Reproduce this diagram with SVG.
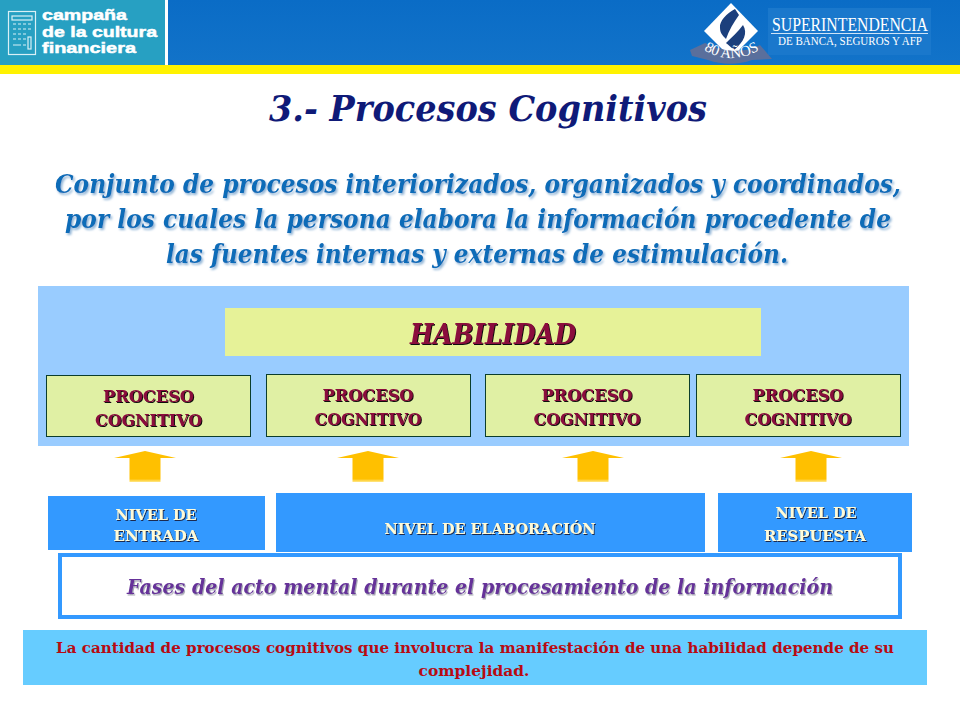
<svg xmlns="http://www.w3.org/2000/svg" width="960" height="720" viewBox="0 0 960 720">
<defs>
<linearGradient id="arrowFill" x1="0" y1="0" x2="0" y2="1"><stop offset="0" stop-color="#ffc000"/><stop offset="0.9" stop-color="#ffc000"/><stop offset="1" stop-color="#ffe88a"/></linearGradient>
<linearGradient id="headBg" x1="0" y1="0" x2="0" y2="1"><stop offset="0" stop-color="#0a6cc6"/><stop offset="1" stop-color="#1273c9"/></linearGradient>
<filter id="sBlue" x="-5%" y="-20%" width="110%" height="150%"><feDropShadow dx="1.500" dy="2" stdDeviation="1" flood-color="#8fb4d6"/></filter>
<filter id="sDark" x="-5%" y="-20%" width="110%" height="150%"><feDropShadow dx="1" dy="1" stdDeviation="0.4" flood-color="#111111"/></filter>
<filter id="sGrey" x="-5%" y="-20%" width="110%" height="150%"><feDropShadow dx="1" dy="1.500" stdDeviation="0.7" flood-color="#a9a9b5"/></filter>
<filter id="sNavy" x="-5%" y="-20%" width="110%" height="150%"><feDropShadow dx="1" dy="1" stdDeviation="0.3" flood-color="#1a2a50"/></filter>
<path id="upArrow" d="M-31 458 L0 451 L31 458 L15.500 458 L15.500 482 L-15.500 482 L-15.500 458 Z" fill="url(#arrowFill)"/>
<path id="ribbonArc" d="M704 50 Q731 66 759 50"/>
</defs>
<style>
text{font-family:"DejaVu Serif","Liberation Serif",serif;text-anchor:middle}
.pc{fill:#e0f0a4;stroke:#0b3d2c;stroke-width:1}
.pt{font-size:16px;font-weight:700;fill:#8a0a3c;filter:url(#sDark)}
.nv{fill:#3399ff}
.nt{font-size:14.500px;font-weight:700;fill:#fffbd8;filter:url(#sNavy)}
.intro{font-size:25.500px;font-weight:700;font-style:italic;fill:#0a6cb8;filter:url(#sBlue)}
.note{font-size:15px;font-weight:700;fill:#b80a12}
.lg{font-family:"Liberation Sans","DejaVu Sans",sans-serif;font-weight:700;fill:#ffffff;text-anchor:start;font-size:15.500px;stroke:#ffffff;stroke-width:0.5}
.sb{font-family:"Liberation Serif",serif;fill:#ffffff}
</style>
<rect width="960" height="720" fill="#ffffff"/>
<g id="header">
<rect x="0" y="0" width="960" height="65" fill="url(#headBg)"/>
<rect x="0" y="0" width="165" height="65" fill="#27a0c2"/>
<rect x="165" y="0" width="3" height="65" fill="#ffffff"/>
<rect x="0" y="65" width="960" height="9" fill="#fff200"/>
<g fill="none" stroke="#d8f0f6" stroke-width="1.200">
<rect x="8.500" y="11.500" width="27" height="43"/>
<rect x="12" y="16" width="20" height="4"/>
<path d="M13 24h3M18 24h3M23 24h3M28 24h3M13 29h3M18 29h3M23 29h3M28 29h3M13 34h3M18 34h3M23 34h3M13 39h3M18 39h3M23 39h3M13 45h8M23 45h3"/>
<rect x="28" y="37" width="3" height="12"/>
</g>
<text class="lg" x="42" y="20" textLength="85" lengthAdjust="spacingAndGlyphs">campaña</text>
<text class="lg" x="42" y="37" textLength="115" lengthAdjust="spacingAndGlyphs">de la cultura</text>
<text class="lg" x="42" y="53" textLength="94" lengthAdjust="spacingAndGlyphs">financiera</text>
<rect x="768" y="8" width="163" height="47" fill="#1a78cc"/>
<path d="M731 3 L758 31 L731 58 L704 31 Z" fill="#ffffff"/>
<path d="M735 9 C727 13 719 21 720 28 C720 33 723 36 726 39 C729 30 734 22 739 15 Z M743 25 C748 33 744 42 734 50 C731 47 727 44 726 43 C731 38 738 32 743 25 Z" fill="#1c3f7c"/>
<path d="M690 50 L705 43 C725 53 745 53 760 45 L772 59 L752 60 C738 65 722 65 708 60 L692 56 Z" fill="#5a6f9c"/>
<text font-size="15" fill="#ffffff" style="font-family:'Liberation Serif',serif"><textPath href="#ribbonArc" startOffset="50%">80 AÑOS</textPath></text>
<text class="sb" x="850" y="31" font-size="19" textLength="156" lengthAdjust="spacingAndGlyphs">SUPERINTENDENCIA</text>
<rect x="771" y="33" width="157" height="1" fill="#cfe4f7"/>
<text class="sb" x="850" y="45" font-size="11.500" textLength="144" lengthAdjust="spacingAndGlyphs">DE BANCA, SEGUROS Y AFP</text>
</g>
<g id="title">
<text x="488" y="121" font-size="35" font-weight="700" font-style="italic" fill="#0f1a78" textLength="438" lengthAdjust="spacingAndGlyphs">3.- Procesos Cognitivos</text>
</g>
<g id="intro">
<text class="intro" x="478" y="193" textLength="846" lengthAdjust="spacingAndGlyphs">Conjunto de procesos interiorizados, organizados y coordinados,</text>
<text class="intro" x="478" y="228" textLength="826" lengthAdjust="spacingAndGlyphs">por los cuales la persona elabora la información procedente de</text>
<text class="intro" x="477" y="263" textLength="622" lengthAdjust="spacingAndGlyphs">las fuentes internas y externas de estimulación.</text>
</g>
<rect id="panel" x="38" y="286" width="871" height="160" fill="#99ccff"/>
<g id="habilidad">
<rect x="225" y="308" width="536" height="48" fill="#e6f298"/>
<text x="493" y="344" font-size="27" font-weight="700" font-style="italic" fill="#8a0a3c" filter="url(#sDark)" textLength="166" lengthAdjust="spacingAndGlyphs">HABILIDAD</text>
</g>
<g id="proceso-1">
<rect class="pc" x="46.500" y="375.500" width="204" height="61"/>
<text class="pt" x="148.500" y="402" textLength="91" lengthAdjust="spacingAndGlyphs">PROCESO</text>
<text class="pt" x="148.500" y="426" textLength="107" lengthAdjust="spacingAndGlyphs">COGNITIVO</text>
</g>
<g id="proceso-2">
<rect class="pc" x="266.500" y="374.500" width="204" height="62"/>
<text class="pt" x="368" y="401" textLength="91" lengthAdjust="spacingAndGlyphs">PROCESO</text>
<text class="pt" x="368" y="425" textLength="107" lengthAdjust="spacingAndGlyphs">COGNITIVO</text>
</g>
<g id="proceso-3">
<rect class="pc" x="485.500" y="374.500" width="204" height="62"/>
<text class="pt" x="587" y="401" textLength="91" lengthAdjust="spacingAndGlyphs">PROCESO</text>
<text class="pt" x="587" y="425" textLength="107" lengthAdjust="spacingAndGlyphs">COGNITIVO</text>
</g>
<g id="proceso-4">
<rect class="pc" x="696.500" y="374.500" width="204" height="62"/>
<text class="pt" x="798" y="401" textLength="91" lengthAdjust="spacingAndGlyphs">PROCESO</text>
<text class="pt" x="798" y="425" textLength="107" lengthAdjust="spacingAndGlyphs">COGNITIVO</text>
</g>
<g id="connectors">
<use href="#upArrow" x="145"/>
<use href="#upArrow" x="368"/>
<use href="#upArrow" x="593"/>
<use href="#upArrow" x="811"/>
</g>
<g id="nivel-entrada">
<rect class="nv" x="48" y="496" width="217" height="54"/>
<text class="nt" x="156" y="520" textLength="81" lengthAdjust="spacingAndGlyphs">NIVEL DE</text>
<text class="nt" x="156" y="541" textLength="85" lengthAdjust="spacingAndGlyphs">ENTRADA</text>
</g>
<g id="nivel-elaboracion">
<rect class="nv" x="276" y="493" width="429" height="59"/>
<text class="nt" x="490" y="534" textLength="211" lengthAdjust="spacingAndGlyphs">NIVEL DE ELABORACIÓN</text>
</g>
<g id="nivel-respuesta">
<rect class="nv" x="718" y="493" width="194" height="59"/>
<text class="nt" x="816" y="518" textLength="81" lengthAdjust="spacingAndGlyphs">NIVEL DE</text>
<text class="nt" x="815" y="541" textLength="102" lengthAdjust="spacingAndGlyphs">RESPUESTA</text>
</g>
<g id="fases">
<rect x="60" y="555" width="840" height="62" fill="#ffffff" stroke="#3399ff" stroke-width="4"/>
<text x="480" y="594" font-size="20" font-weight="700" font-style="italic" fill="#663399" filter="url(#sGrey)" textLength="706" lengthAdjust="spacingAndGlyphs">Fases del acto mental durante el procesamiento de la información</text>
</g>
<g id="nota">
<rect x="23" y="630" width="904" height="55" fill="#66ccff"/>
<text class="note" x="475" y="653" textLength="838" lengthAdjust="spacingAndGlyphs">La cantidad de procesos cognitivos que involucra la manifestación de una habilidad depende de su</text>
<text class="note" x="474" y="676" textLength="111" lengthAdjust="spacingAndGlyphs">complejidad.</text>
</g>
</svg>
